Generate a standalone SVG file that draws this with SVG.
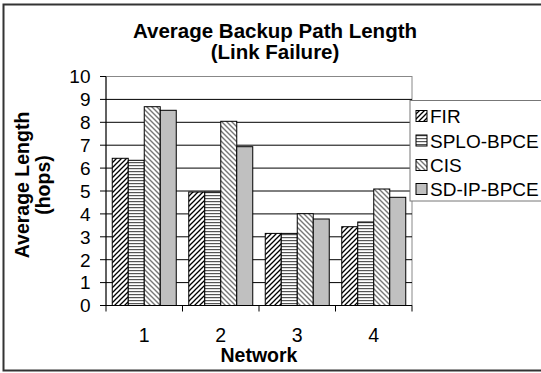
<svg xmlns="http://www.w3.org/2000/svg" width="541" height="373" viewBox="0 0 541 373">
  <style>
    text { font-family: "Liberation Sans", Arial, sans-serif; fill: #000; }
    .title { font-size: 20.5px; font-weight: bold; text-anchor: middle; }
    .axt { font-size: 19.5px; font-weight: bold; text-anchor: middle; }
    .tick { font-size: 19px; text-anchor: end; }
    .cat { font-size: 19.5px; text-anchor: middle; }
    .leg { font-size: 19px; }
    .grid { stroke: #000; stroke-width: 1; }
    .bar { stroke: #000; stroke-width: 1; }
    .tk { stroke: #000; stroke-width: 1; }
  </style>
  <defs>
    <pattern id="pFIR" patternUnits="userSpaceOnUse" width="5" height="5">
      <rect width="5" height="5" fill="#fff"/>
      <path d="M-1,6 L6,-1 M-1,1 L1,-1 M4,6 L6,4" stroke="#000" stroke-width="1.3"/>
    </pattern>
    <pattern id="pSPLO" patternUnits="userSpaceOnUse" width="4" height="3">
      <rect width="4" height="3" fill="#fff"/>
      <rect y="0" width="4" height="1.2" fill="#555"/>
    </pattern>
    <pattern id="pCIS" patternUnits="userSpaceOnUse" width="5" height="5">
      <rect width="5" height="5" fill="#fff"/>
      <path d="M-1,-1 L6,6 M4,-1 L6,1 M-1,4 L1,6" stroke="#777" stroke-width="1.4"/>
    </pattern>
  </defs>

  <!-- chart frame -->
  <rect x="3.5" y="4.5" width="560" height="366" fill="#fff" stroke="#333" stroke-width="2"/>

  <!-- title -->
  <g id="title">
    <text class="title" x="275" y="37.5">Average Backup Path Length</text>
    <text class="title" x="275" y="58.5">(Link Failure)</text>
  </g>

  <!-- plot area -->
  <g id="plot">
    <rect x="106" y="76.5" width="306" height="229" fill="#fff" stroke="#888" stroke-width="1"/>
    <g class="grid">
      <line x1="106" y1="282.6" x2="412" y2="282.6"/>
      <line x1="106" y1="259.7" x2="412" y2="259.7"/>
      <line x1="106" y1="236.8" x2="412" y2="236.8"/>
      <line x1="106" y1="213.9" x2="412" y2="213.9"/>
      <line x1="106" y1="191.0" x2="412" y2="191.0"/>
      <line x1="106" y1="168.1" x2="412" y2="168.1"/>
      <line x1="106" y1="145.2" x2="412" y2="145.2"/>
      <line x1="106" y1="122.3" x2="412" y2="122.3"/>
      <line x1="106" y1="99.4" x2="412" y2="99.4"/>
    </g>
  </g>

  <!-- series bars -->
  <g id="series-FIR" class="bar" fill="url(#pFIR)">
    <rect x="112.25" y="158.3" width="16" height="147.2"/>
    <rect x="188.75" y="192.0" width="16" height="113.5"/>
    <rect x="265.25" y="233.4" width="16" height="72.1"/>
    <rect x="341.75" y="226.7" width="16" height="78.8"/>
  </g>
  <g id="series-SPLO-BPCE" class="bar" fill="url(#pSPLO)">
    <rect x="128.25" y="160.3" width="16" height="145.2"/>
    <rect x="204.75" y="192.0" width="16" height="113.5"/>
    <rect x="281.25" y="233.4" width="16" height="72.1"/>
    <rect x="357.75" y="222.0" width="16" height="83.5"/>
  </g>
  <g id="series-CIS" class="bar" fill="url(#pCIS)">
    <rect x="144.25" y="106.7" width="16" height="198.8"/>
    <rect x="220.75" y="121.3" width="16" height="184.2"/>
    <rect x="297.25" y="213.7" width="16" height="91.8"/>
    <rect x="373.75" y="189.0" width="16" height="116.5"/>
  </g>
  <g id="series-SD-IP-BPCE" class="bar" fill="#c0c0c0">
    <rect x="160.25" y="110.3" width="16" height="195.2"/>
    <rect x="236.75" y="146.7" width="16" height="158.8"/>
    <rect x="313.25" y="219.0" width="16" height="86.5"/>
    <rect x="389.75" y="197.3" width="16" height="108.2"/>
  </g>

  <!-- axes -->
  <g id="axes" class="tk">
    <line x1="106" y1="76.5" x2="106" y2="305.5"/>
    <line x1="106" y1="305.5" x2="412" y2="305.5"/>
    <line x1="100" y1="305.5" x2="106" y2="305.5"/>
    <line x1="100" y1="282.6" x2="106" y2="282.6"/>
    <line x1="100" y1="259.7" x2="106" y2="259.7"/>
    <line x1="100" y1="236.8" x2="106" y2="236.8"/>
    <line x1="100" y1="213.9" x2="106" y2="213.9"/>
    <line x1="100" y1="191.0" x2="106" y2="191.0"/>
    <line x1="100" y1="168.1" x2="106" y2="168.1"/>
    <line x1="100" y1="145.2" x2="106" y2="145.2"/>
    <line x1="100" y1="122.3" x2="106" y2="122.3"/>
    <line x1="100" y1="99.4" x2="106" y2="99.4"/>
    <line x1="100" y1="76.5" x2="106" y2="76.5"/>
    <line x1="106" y1="305.5" x2="106" y2="311.5"/>
    <line x1="182.5" y1="305.5" x2="182.5" y2="311.5"/>
    <line x1="259" y1="305.5" x2="259" y2="311.5"/>
    <line x1="335.5" y1="305.5" x2="335.5" y2="311.5"/>
    <line x1="412" y1="305.5" x2="412" y2="311.5"/>
  </g>

  <!-- value axis labels -->
  <g id="y-labels">
    <text class="tick" x="90.5" y="312.3">0</text>
    <text class="tick" x="90.5" y="289.4">1</text>
    <text class="tick" x="90.5" y="266.5">2</text>
    <text class="tick" x="90.5" y="243.6">3</text>
    <text class="tick" x="90.5" y="220.7">4</text>
    <text class="tick" x="90.5" y="197.8">5</text>
    <text class="tick" x="90.5" y="174.9">6</text>
    <text class="tick" x="90.5" y="152.0">7</text>
    <text class="tick" x="90.5" y="129.1">8</text>
    <text class="tick" x="90.5" y="106.2">9</text>
    <text class="tick" x="90.5" y="83.3">10</text>
  </g>

  <!-- category labels -->
  <g id="x-labels">
    <text class="cat" x="144.25" y="341.5">1</text>
    <text class="cat" x="220.75" y="341.5">2</text>
    <text class="cat" x="297.25" y="341.5">3</text>
    <text class="cat" x="373.75" y="341.5">4</text>
  </g>

  <!-- axis titles -->
  <g id="x-title">
    <text class="axt" x="259" y="361.5">Network</text>
  </g>
  <g id="y-title">
    <text class="axt" transform="translate(29,185) rotate(-90)">Average Length</text>
    <text class="axt" transform="translate(50,185) rotate(-90)">(hops)</text>
  </g>

  <!-- legend -->
  <g id="legend">
    <rect x="410" y="100.5" width="140" height="100.5" fill="#fff" stroke="#777" stroke-width="1"/>
    <rect x="416" y="110.5" width="11" height="11" fill="url(#pFIR)" stroke="#000"/>
    <text class="leg" x="430" y="123">FIR</text>
    <rect x="416" y="135" width="11" height="11" fill="url(#pSPLO)" stroke="#000"/>
    <text class="leg" x="430" y="147.5">SPLO-BPCE</text>
    <rect x="416" y="159.5" width="11" height="11" fill="url(#pCIS)" stroke="#000"/>
    <text class="leg" x="430" y="172">CIS</text>
    <rect x="416" y="183.5" width="11" height="11" fill="#c0c0c0" stroke="#000"/>
    <text class="leg" x="430" y="196">SD-IP-BPCE</text>
  </g>
</svg>
